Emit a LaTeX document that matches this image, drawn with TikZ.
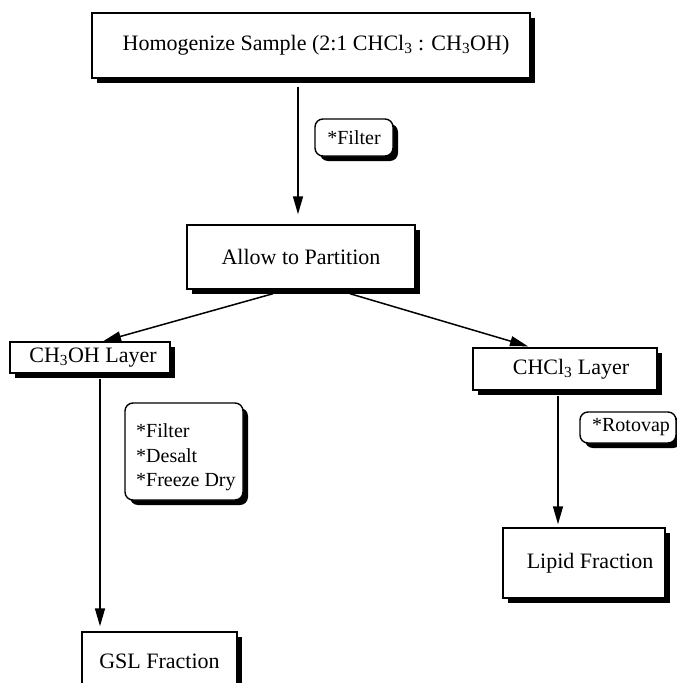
\documentclass[tikz,border=0pt]{standalone}
\usepackage{fontspec}
\setmainfont{Liberation Serif}
\usetikzlibrary{shadows,arrows.meta,calc}
\begin{document}
\begin{tikzpicture}[x=1pt,y=-1pt,
  box/.style={draw=black, line width=1.4pt, fill=white, inner sep=0pt,
    drop shadow={shadow xshift=5pt, shadow yshift=-5pt, fill=black, opacity=1},
    font=\fontsize{22}{26}\selectfont},
  note/.style={box, rounded corners=8pt, font=\fontsize{20}{24.5}\selectfont},
  plain/.style={inner sep=0pt, align=left, font=\fontsize{20}{24.5}\selectfont},
  arr/.style={line width=1.5pt, -{Triangle[length=18pt,width=10pt]}}]
\useasboundingbox (0,0) rectangle (677,683);
\fill[white] (0,0) rectangle (677,683);

\node[box, minimum width=438pt, minimum height=65pt] (hom) at (311,45.5)
  {\hspace{10pt}Homogenize Sample (2:1 CHCl\textsubscript{3} : CH\textsubscript{3}OH)};
\node[note, minimum width=78pt, minimum height=37pt] (filt) at (354,137.5) {*Filter};
\node[box, minimum width=228pt, minimum height=64pt] (allow) at (301,257) {Allow to Partition};
\node[box, minimum width=160pt, minimum height=31pt] (meoh) at (90,357.5)
  {\hspace{6pt}CH\textsubscript{3}OH Layer};
\node[box, minimum width=184pt, minimum height=42pt] (chcl) at (565,369)
  {\hspace{12pt}CHCl\textsubscript{3} Layer};
\node[note, minimum width=96pt, minimum height=31pt] (roto) at (628,427.5) {\hspace{6pt}*Rotovap};
\node[note, minimum width=118pt, minimum height=97pt] (fd) at (184,451.5) {};
\node[plain, anchor=west] (fdt) at (136,457.5) {*Filter\\*Desalt\\*Freeze Dry};
\node[box, minimum width=162pt, minimum height=70pt] (lipid) at (584,563)
  {\hspace{12pt}Lipid Fraction};
\node[box, minimum width=155pt, minimum height=58pt] (gsl) at (159.5,661)
  {GSL Fraction\hspace{14pt}};

\draw[arr] ($(hom.south)+(-13,8)$) -- ($(allow.north)+(-3,-10)$);
\draw[arr] ($(allow.south)+(-28,4)$) -- ($(meoh.north)+(13,0)$);
\draw[arr] ($(allow.south)+(49,4)$) -- ($(chcl.north)+(-37,-1)$);
\draw[arr] ($(meoh.south)+(10,5)$) -- ($(gsl.north)+(-59.5,-5)$);
\draw[arr] ($(chcl.south)+(-7,5)$) -- ($(lipid.north)+(-26,-3)$);
\end{tikzpicture}
\end{document}
